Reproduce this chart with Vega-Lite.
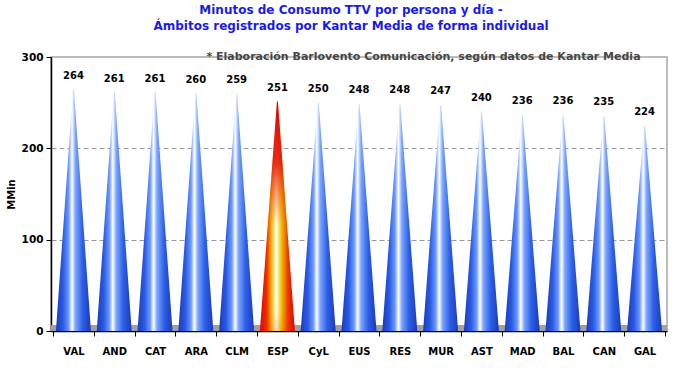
{
  "$schema": "https://vega.github.io/schema/vega-lite/v6.json",
  "width": 616,
  "height": 274,
  "autosize": {"type": "none"},
  "padding": {"left": 51, "top": 57, "right": 6, "bottom": 37},
  "background": "white",
  "title": {
    "text": ["Minutos de Consumo TTV por persona y día -", "Ámbitos registrados por Kantar Media de forma individual"],
    "font": "DejaVu Sans",
    "fontSize": 12,
    "fontWeight": "bold",
    "color": "#1a1aee",
    "anchor": "middle",
    "frame": "group",
    "dx": -8,
    "offset": 18,
    "lineHeight": 16
  },
  "config": {
    "view": {"stroke": "#a6a6a6", "strokeWidth": 1.5},
    "axis": {"labelFont": "DejaVu Sans", "titleFont": "DejaVu Sans"}
  },
  "data": {
    "values": [
      {"region": "VAL", "value": 264},
      {"region": "AND", "value": 261},
      {"region": "CAT", "value": 261},
      {"region": "ARA", "value": 260},
      {"region": "CLM", "value": 259},
      {"region": "ESP", "value": 251},
      {"region": "CyL", "value": 250},
      {"region": "EUS", "value": 248},
      {"region": "RES", "value": 248},
      {"region": "MUR", "value": 247},
      {"region": "AST", "value": 240},
      {"region": "MAD", "value": 236},
      {"region": "BAL", "value": 236},
      {"region": "CAN", "value": 235},
      {"region": "GAL", "value": 224}
    ]
  },
  "encoding": {
    "x": {
      "field": "region",
      "type": "nominal",
      "sort": ["VAL", "AND", "CAT", "ARA", "CLM", "ESP", "CyL", "EUS", "RES", "MUR", "AST", "MAD", "BAL", "CAN", "GAL"],
      "scale": {"domain": ["VAL", "AND", "CAT", "ARA", "CLM", "ESP", "CyL", "EUS", "RES", "MUR", "AST", "MAD", "BAL", "CAN", "GAL"], "paddingInner": 0, "paddingOuter": 0.05},
      "axis": {
        "title": null,
        "labelAngle": 0,
        "labelFontSize": 10,
        "labelFontWeight": "bold",
        "labelColor": "#000000",
        "labelPadding": 10,
        "tickBand": "extent",
        "tickColor": "#000000",
        "tickSize": 5,
        "domainColor": "#000000",
        "domainWidth": 1.5
      }
    },
    "y": {
      "type": "quantitative",
      "scale": {"domain": [0, 300]},
      "axis": {
        "title": "MMin",
        "titleFontSize": 10,
        "titleFontWeight": "bold",
        "titleColor": "#000000",
        "titlePadding": 5,
        "values": [0, 100, 200, 300],
        "labelFontSize": 10.5,
        "labelFontWeight": "bold",
        "labelColor": "#000000",
        "labelPadding": 3,
        "tickColor": "#000000",
        "tickSize": 5,
        "domainColor": "#000000",
        "domainWidth": 1.5,
        "grid": true,
        "gridColor": "#999999",
        "gridDash": [5, 3],
        "gridOpacity": {"condition": {"test": "datum.value == 100 || datum.value == 200", "value": 1}, "value": 0}
      }
    }
  },
  "layer": [
    {
      "mark": {"type": "rect", "color": "#a0a0a0"},
      "encoding": {
        "x": null,
        "y": {"datum": 0, "type": "quantitative"},
        "y2": {"datum": 6}
      }
    },
    {
      "transform": [
        {"filter": "datum.region !== 'ESP'"},
        {"stack": "value", "groupby": ["region"], "as": ["v0", "v1"]},
        {"fold": ["v0", "v1"], "as": ["end", "y"]}
      ],
      "mark": {
        "type": "trail",
        "clip": true,
        "color": {
          "gradient": "linear",
          "x1": 0, "y1": 0, "x2": 1, "y2": 0,
          "stops": [
            {"offset": 0, "color": "#1a3bbd"},
            {"offset": 0.2, "color": "#2a5ae3"},
            {"offset": 0.36, "color": "#6a98ff"},
            {"offset": 0.46, "color": "#ffffff"},
            {"offset": 0.56, "color": "#7aa4ff"},
            {"offset": 0.76, "color": "#2c5fe6"},
            {"offset": 1, "color": "#1a3abb"}
          ]
        }
      },
      "encoding": {
        "y": {"field": "y", "type": "quantitative"},
        "detail": {"field": "region"},
        "order": {"field": "end"},
        "size": {"field": "end", "type": "nominal", "scale": {"type": "ordinal", "domain": ["v0", "v1"], "range": [35, 1]}, "legend": null}
      }
    },
    {
      "transform": [
        {"filter": "datum.region === 'ESP'"},
        {"stack": "value", "groupby": ["region"], "as": ["v0", "v1"]},
        {"fold": ["v0", "v1"], "as": ["end", "y"]}
      ],
      "mark": {
        "type": "trail",
        "clip": true,
        "color": {
          "gradient": "linear",
          "x1": 0, "y1": 0, "x2": 1, "y2": 0,
          "stops": [
            {"offset": 0, "color": "#e00000"},
            {"offset": 0.2, "color": "#ee3000"},
            {"offset": 0.33, "color": "#f2b800"},
            {"offset": 0.47, "color": "#ffffff"},
            {"offset": 0.6, "color": "#f0cc00"},
            {"offset": 0.8, "color": "#ee3800"},
            {"offset": 1, "color": "#dd0000"}
          ]
        }
      },
      "encoding": {
        "y": {"field": "y", "type": "quantitative"},
        "detail": {"field": "region"},
        "order": {"field": "end"},
        "size": {"field": "end", "type": "nominal", "scale": {"type": "ordinal", "domain": ["v0", "v1"], "range": [35, 1]}, "legend": null}
      }
    },
    {
      "transform": [
        {"filter": "datum.region === 'ESP'"},
        {"stack": "value", "groupby": ["region"], "as": ["v0", "v1"]},
        {"fold": ["v0", "v1"], "as": ["end", "y"]}
      ],
      "mark": {
        "type": "trail",
        "clip": true,
        "color": {
          "gradient": "linear",
          "x1": 0, "y1": 0, "x2": 0, "y2": 1,
          "stops": [
            {"offset": 0, "color": "rgba(225,0,0,1)"},
            {"offset": 0.25, "color": "rgba(230,10,0,0.85)"},
            {"offset": 0.5, "color": "rgba(240,60,0,0)"},
            {"offset": 0.85, "color": "rgba(240,60,0,0)"},
            {"offset": 1, "color": "rgba(230,40,0,0.35)"}
          ]
        }
      },
      "encoding": {
        "y": {"field": "y", "type": "quantitative"},
        "detail": {"field": "region"},
        "order": {"field": "end"},
        "size": {"field": "end", "type": "nominal", "scale": {"type": "ordinal", "domain": ["v0", "v1"], "range": [35, 1]}, "legend": null}
      }
    },
    {
      "mark": {"type": "text", "font": "DejaVu Sans", "fontSize": 10, "fontWeight": "bold", "color": "#000000", "dy": -14},
      "encoding": {
        "y": {"field": "value", "type": "quantitative"},
        "text": {"field": "value", "type": "quantitative"}
      }
    },
    {
      "data": {"values": [{"note": "* Elaboración Barlovento Comunicación, según datos de Kantar Media"}]},
      "mark": {"type": "text", "font": "DejaVu Sans", "fontSize": 11, "fontWeight": "bold", "color": "#474747", "align": "right", "baseline": "middle", "dx": -4},
      "encoding": {
        "x": {"datum": "GAL"},
        "y": {"datum": 300, "type": "quantitative"},
        "text": {"field": "note"}
      }
    }
  ],
  "resolve": {"scale": {"size": "independent"}}
}
